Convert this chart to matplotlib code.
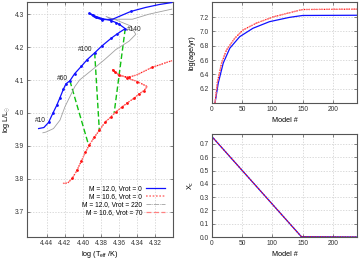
import matplotlib
matplotlib.use("Agg")
import matplotlib.pyplot as plt
import numpy as np

plt.rcParams['font.family'] = ['Liberation Sans', 'DejaVu Sans']
plt.rcParams['mathtext.fontset'] = 'custom'
plt.rcParams['mathtext.rm'] = 'Liberation Sans'
plt.rcParams['mathtext.it'] = 'Liberation Sans:italic'

# ---------------- HR diagram data ----------------
blue_T = [4.4491, 4.4433, 4.4381, 4.4334, 4.4290, 4.4254, 4.4216, 4.4188, 4.4144,
          4.4092, 4.4018, 4.3952, 4.3869, 4.3792, 4.3688, 4.3616, 4.3530,
          4.3597, 4.3633, 4.3688, 4.3787, 4.3853, 4.3891, 4.3927,
          4.3872, 4.3787, 4.3670, 4.3468, 4.3303, 4.3157, 4.3014]
blue_L = [3.9525, 3.9556, 3.9709, 3.9985, 4.0231, 4.0464, 4.0721, 4.0884, 4.0976,
          4.1190, 4.1414, 4.1620, 4.1825, 4.2028, 4.2264, 4.2408, 4.2561,
          4.2693, 4.2745, 4.2807, 4.2868, 4.2929, 4.2979, 4.3031,
          4.2908, 4.2831, 4.2847, 4.3083, 4.3205, 4.3291, 4.3353]
blue_dot_T = [4.4381, 4.4334, 4.4290, 4.4254, 4.4216, 4.4188, 4.4144, 4.4092, 4.4018,
              4.3952, 4.3869, 4.3792, 4.3688, 4.3616, 4.3530, 4.3597, 4.3633, 4.3688,
              4.3787, 4.3853, 4.3891, 4.3927, 4.3787, 4.3468]
blue_dot_L = [3.9709, 3.9985, 4.0231, 4.0464, 4.0721, 4.0884, 4.0976, 4.1190, 4.1414,
              4.1620, 4.1825, 4.2028, 4.2264, 4.2408, 4.2561, 4.2693, 4.2745, 4.2807,
              4.2868, 4.2929, 4.2979, 4.3031, 4.2831, 4.3083]

red_T = [4.4221, 4.4169, 4.4117, 4.4062, 4.4018, 4.3971, 4.3927, 4.3872, 4.3817,
         4.3751, 4.3688, 4.3633, 4.3561, 4.3506, 4.3432, 4.3377, 4.3322, 4.3286,
         4.3396, 4.3506, 4.3597, 4.3644, 4.3670,
         4.3597, 4.3487, 4.3399, 4.3231, 4.3011]
red_L = [3.7857, 3.7870, 3.8010, 3.8277, 3.8531, 3.8807, 3.9034, 3.9267, 3.9473,
         3.9727, 3.9881, 4.0034, 4.0188, 4.0310, 4.0445, 4.0577, 4.0678, 4.0801,
         4.0954, 4.1059, 4.1160, 4.1243, 4.1313,
         4.1130, 4.1083, 4.1160, 4.1384, 4.1589]
red_dot_T = [4.4117, 4.4062, 4.4018, 4.3971, 4.3927, 4.3872, 4.3817, 4.3751, 4.3688,
             4.3633, 4.3561, 4.3506, 4.3432, 4.3377, 4.3322, 4.3396, 4.3506, 4.3597,
             4.3644, 4.3670, 4.3487, 4.3231]
red_dot_L = [3.8010, 3.8277, 3.8531, 3.8807, 3.9034, 3.9267, 3.9473, 3.9727, 3.9881,
             4.0034, 4.0188, 4.0310, 4.0445, 4.0577, 4.0678, 4.0954, 4.1059, 4.1160,
             4.1243, 4.1313, 4.1083, 4.1384]

gray_T = [4.4444, 4.4408, 4.4326, 4.4254, 4.4199, 4.4144, 4.4089, 4.4034, 4.3941,
          4.3850, 4.3759, 4.3633, 4.3487, 4.3413, 4.3468, 4.3633, 4.3743,
          4.3685, 4.3450, 4.3267, 4.3014]
gray_L = [3.9396, 3.9420, 3.9525, 3.9780, 4.0188, 4.0494, 4.0801, 4.1007, 4.1212,
          4.1414, 4.1620, 4.1927, 4.2181, 4.2387, 4.2641, 4.2825, 4.2929,
          4.2847, 4.2847, 4.3000, 4.3153]

iso_T = [[4.4144, 4.3935], [4.3869, 4.3817], [4.3530, 4.3653]]
iso_L = [[4.0976, 3.9010], [4.1825, 3.9450], [4.2561, 4.0000]]

model_labels = ['#10', '#60', '#100', '#140']
label_T = [4.4468, 4.4226, 4.3979, 4.3432]
label_L = [3.9755, 4.1046, 4.1927, 4.2525]

legend_labels = ['M = 12.0, Vrot = 0', 'M = 10.6, Vrot = 0',
                 'M = 12.0, Vrot = 220', 'M = 10.6, Vrot = 70']

# ---------------- age data ----------------
age_blue_model = [5, 10.4, 18.6, 29.5, 45.9, 67.7, 95, 128, 150, 240]
age_blue = [6.0, 6.28, 6.557, 6.765, 6.926, 7.043, 7.135, 7.195, 7.222, 7.225]
age_red_model = [5, 8.7, 15.8, 24, 37.7, 51.4, 73, 100.5, 133, 150, 240]
age_red = [6.0, 6.28, 6.557, 6.74, 6.904, 7.02, 7.113, 7.2, 7.27, 7.305, 7.31]

# ---------------- central H data ----------------
xc_model = [0, 148, 240]
xc_blue = [0.755, 0.002, 0.0]
xc_red = [0.755, 0.002, 0.0]

BLUE = '#1010ff'
RED = '#ff1010'
PINK = '#ff8080'
GRAY = '#a0a0a0'
GREEN = '#10c010'
FS = 4.8

fig = plt.figure(figsize=(3.59, 2.60), dpi=100)
W, H = 359.0, 260.0
ax1 = fig.add_axes([27 / W, 23 / H, 146 / W, 235 / H])
ax2 = fig.add_axes([212 / W, 157 / H, 145 / W, 101 / H])
ax3 = fig.add_axes([212 / W, 23 / H, 145 / W, 103 / H])


def style(ax):
    for s in ax.spines.values():
        s.set_color('#555555')
        s.set_linewidth(0.8)
    ax.tick_params(direction='in', length=2.5, width=0.5, labelsize=FS,
                   top=True, right=True, colors='#555555', labelcolor='#333333', pad=2)
    ax.grid(True, color='#cccccc', linestyle=(0, (2, 2)), linewidth=0.5)
    ax.set_axisbelow(True)


# HR diagram
style(ax1)
for t, l in zip(iso_T, iso_L):
    ax1.plot(t, l, color=GREEN, linestyle=(0, (4, 2)), linewidth=1.0, zorder=2)
ax1.plot(gray_T, gray_L, color=GRAY, linewidth=0.6, zorder=3)
ax1.plot(red_T, red_L, color=RED, linestyle=(0, (1, 1)), linewidth=0.9, zorder=3)
ax1.plot(red_T, red_L, color=PINK, linestyle=(0, (4, 2)), linewidth=0.7, zorder=3)
ax1.plot(red_dot_T, red_dot_L, 'o', color=RED, markersize=2.0, markeredgewidth=0, zorder=4)
ax1.plot(blue_T, blue_L, color=BLUE, linewidth=0.9, zorder=4)
ax1.plot(blue_dot_T, blue_dot_L, 'o', color=BLUE, markersize=2.0, markeredgewidth=0, zorder=5)
for s, t, l in zip(model_labels, label_T, label_L):
    ax1.text(t, l, s, fontsize=FS, ha='center', va='center', color='#222222', zorder=6)

h1, = ax1.plot([], [], color=BLUE, linewidth=0.9)
h2, = ax1.plot([], [], color=PINK, linestyle=(0, (1, 1)), linewidth=1.2)
h3, = ax1.plot([], [], color=GRAY, linestyle=(0, (6, 1, 1, 1)), linewidth=0.6)
h4, = ax1.plot([], [], color=PINK, linestyle=(0, (4, 2)), linewidth=0.9)
ax1.legend([h1, h2, h3, h4], legend_labels, loc='lower right',
           bbox_to_anchor=(0.966, 0.073), frameon=False, fontsize=FS,
           markerfirst=False, borderpad=0, handlelength=2.8, handletextpad=0.6,
           labelspacing=0.15)

ax1.set_xlim(4.462, 4.300)
ax1.set_ylim(3.623, 4.337)
ax1.set_xticks([4.44, 4.42, 4.40, 4.38, 4.36, 4.34, 4.32])
ax1.set_xticklabels(['4.44', '4.42', '4.40', '4.38', '4.36', '4.34', '4.32'])
ax1.set_yticks([3.7, 3.8, 3.9, 4.0, 4.1, 4.2, 4.3])
ax1.set_yticklabels(['3.7', '3.8', '3.9', '4.0', '4.1', '4.2', '4.3'])
ax1.set_xlabel(r'log (T$_{\rm eff}$ /K)', fontsize=5.2, labelpad=1.5)
ax1.set_ylabel(r'log L/L$_{\odot}$', fontsize=5.2, labelpad=2)

# age panel
style(ax2)
ax2.plot(age_blue_model, age_blue, color=BLUE, linewidth=0.9)
ax2.plot(age_red_model, age_red, color=RED, linestyle=(0, (1, 1)), linewidth=0.9)
ax2.plot(age_red_model, age_red, color=PINK, linestyle=(0, (4, 2)), linewidth=0.8)
ax2.set_xlim(0, 240)
ax2.set_ylim(6.0, 7.41)
ax2.set_xticks([0, 50, 100, 150, 200])
ax2.set_yticks([6.2, 6.4, 6.6, 6.8, 7.0, 7.2])
ax2.set_yticklabels(['6.2', '6.4', '6.6', '6.8', '7.0', '7.2'])
ax2.set_xlabel('Model #', fontsize=5.2, labelpad=3)
ax2.set_ylabel('log(age/yr)', fontsize=5.2, labelpad=3)

# Xc panel
style(ax3)
ax3.plot(xc_model, xc_blue, color=BLUE, linewidth=0.9)
ax3.plot(xc_model, xc_red, color=RED, linestyle=(0, (1, 1)), linewidth=0.9)
ax3.set_xlim(0, 240)
ax3.set_ylim(0, 0.775)
ax3.set_xticks([0, 50, 100, 150, 200])
ax3.set_yticks([0.0, 0.1, 0.2, 0.3, 0.4, 0.5, 0.6, 0.7])
ax3.set_yticklabels(['0.0', '0.1', '0.2', '0.3', '0.4', '0.5', '0.6', '0.7'])
ax3.set_xlabel('Model #', fontsize=5.2, labelpad=3)
ax3.set_ylabel(r'X$_{\rm c}$', fontsize=5.2, labelpad=3)

fig.savefig('out.png', dpi=100)
